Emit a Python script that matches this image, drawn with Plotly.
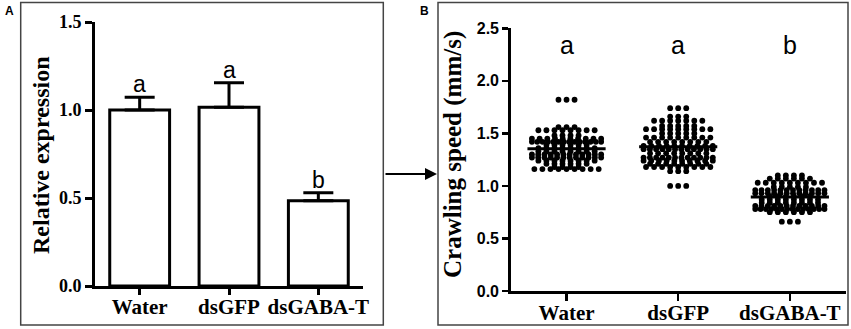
import numpy as np
import plotly.graph_objects as go

# ---------------- data ----------------
categories = ["Water", "dsGFP", "dsGABA-T"]

# Panel A: relative expression (mean, upper SE) and significance letters
expr_mean = [1.00, 1.015, 0.485]
expr_err = [0.072, 0.14, 0.045]
expr_letters = ["a", "a", "b"]

water_levels = [1.82, 1.56, 1.53, 1.48, 1.45, 1.42, 1.39, 1.36, 1.33, 1.30, 1.27, 1.24, 1.21, 1.18, 1.16]
water_counts = [3, 3, 8, 4, 10, 14, 6, 8, 8, 12, 12, 8, 6, 4, 9]

dsgfp_levels = [1.74, 1.66, 1.62, 1.57, 1.54, 1.50, 1.46, 1.42, 1.38, 1.35, 1.31, 1.27, 1.24, 1.21, 1.18, 1.14, 1.00]
dsgfp_counts = [3, 3, 7, 5, 9, 5, 9, 8, 10, 12, 8, 12, 10, 8, 9, 3, 3]

dsgaba_levels = [1.10, 1.07, 1.03, 0.99, 0.96, 0.93, 0.90, 0.87, 0.84, 0.81, 0.78, 0.75, 0.66]
dsgaba_counts = [4, 6, 9, 5, 12, 12, 6, 8, 8, 12, 14, 6, 3]

speed_letters = ["a", "a", "b"]

groups = [(water_levels, water_counts), (dsgfp_levels, dsgfp_counts), (dsgaba_levels, dsgaba_counts)]

# ---------------- layout helpers ----------------
W, H = 851, 329
def px(x):
    return x / W
def py(y):
    return (H - y) / H

SERIF = "Liberation Serif"
SANS = "Liberation Sans"

fig = go.Figure()

# Panel A bars
fig.add_trace(go.Bar(
    x=list(range(len(categories))), y=expr_mean, width=0.67,
    marker=dict(color="white", line=dict(color="black", width=3)),
    error_y=dict(type="data", array=expr_err, arrayminus=[0] * len(expr_err), symmetric=False,
                 color="black", thickness=3, width=15),
    xaxis="x", yaxis="y", showlegend=False, hoverinfo="skip",
))

# Panel B: dot plot laid out as a simple beeswarm (rows centred on each category)
max_half = 0.31
base_step = 0.072
for gi, (levels, counts) in enumerate(groups):
    xs, ys = [], []
    vals = []
    for lv, n in zip(levels, counts):
        step = base_step if n <= 1 else min(base_step, 2 * max_half / (n - 1))
        offs = (np.arange(n) - (n - 1) / 2) * step
        xs.extend(gi + offs)
        ys.extend([lv] * n)
        vals.extend([lv] * n)
    fig.add_trace(go.Scatter(
        x=xs, y=ys, mode="markers",
        marker=dict(color="black", size=5.8, line=dict(width=0)),
        xaxis="x2", yaxis="y2", showlegend=False, hoverinfo="skip",
    ))
    m = float(np.mean(vals))
    fig.add_trace(go.Scatter(
        x=[gi - 0.35, gi + 0.35], y=[m, m], mode="lines",
        line=dict(color="black", width=3),
        xaxis="x2", yaxis="y2", showlegend=False, hoverinfo="skip",
    ))

annotations = []
# letters panel A
for i, (v, e, t) in enumerate(zip(expr_mean, expr_err, expr_letters)):
    annotations.append(dict(x=i, y=v + e, xref="x", yref="y", text=t, showarrow=False,
                            yanchor="bottom", font=dict(family=SANS, size=23, color="black"), yshift=-2))
# letters panel B
for i, t in enumerate(speed_letters):
    annotations.append(dict(x=i, y=2.34, xref="x2", yref="y2", text=t, showarrow=False,
                            yanchor="middle", font=dict(family=SANS, size=25, color="black")))
# axis titles
annotations.append(dict(x=px(41), y=py(155), xref="paper", yref="paper", text="Relative expression",
                        textangle=-90, showarrow=False, xanchor="center", yanchor="middle",
                        font=dict(family=SERIF, size=24, color="black", weight="bold")))
annotations.append(dict(x=px(453), y=py(155), xref="paper", yref="paper", text="Crawling speed (mm/s)",
                        textangle=-90, showarrow=False, xanchor="center", yanchor="middle",
                        font=dict(family=SERIF, size=25, color="black", weight="bold")))
# panel letters
annotations.append(dict(x=px(9), y=py(11), xref="paper", yref="paper", text="A", showarrow=False,
                        xanchor="center", yanchor="middle",
                        font=dict(family=SANS, size=12, color="black", weight="bold")))
annotations.append(dict(x=px(424), y=py(11), xref="paper", yref="paper", text="B", showarrow=False,
                        xanchor="center", yanchor="middle",
                        font=dict(family=SANS, size=12, color="black", weight="bold")))
# arrow between panels
annotations.append(dict(x=px(437), y=py(174), xref="paper", yref="paper", text="",
                        showarrow=True, ax=-53, ay=0, arrowhead=2, arrowsize=1.2, arrowwidth=2,
                        arrowcolor="black"))

shapes = [
    dict(type="rect", xref="paper", yref="paper", x0=px(20.7), x1=px(383.3), y0=py(325), y1=py(2.5),
         line=dict(color="#444", width=1.5), fillcolor="rgba(0,0,0,0)"),
    dict(type="rect", xref="paper", yref="paper", x0=px(438), x1=px(848), y0=py(325), y1=py(2.5),
         line=dict(color="#444", width=1.5), fillcolor="rgba(0,0,0,0)"),
]

common_x = dict(range=[-0.5, 2.5], tickvals=list(range(len(categories))), ticktext=categories,
                showline=True, linecolor="black", ticks="outside", tickcolor="black",
                showgrid=False, zeroline=False, fixedrange=True, automargin=False,
                ticklabelstandoff=-6,
                tickfont=dict(family=SERIF, size=21, color="black", weight="bold"))

fig.update_layout(
    width=W, height=H, margin=dict(l=0, r=0, t=0, b=0, pad=0), autosize=False,
    paper_bgcolor="white", plot_bgcolor="white", bargap=0,
    xaxis=dict(domain=[px(95), px(363)], anchor="y", linewidth=3, tickwidth=3, ticklen=6, **common_x),
    yaxis=dict(domain=[py(286), py(22)], anchor="x", range=[0, 1.5], automargin=False,
               tickvals=[0, 0.5, 1.0, 1.5], ticktext=["0.0", "0.5", "1.0", "1.5"],
               showline=True, linecolor="black", linewidth=3, ticks="outside", tickwidth=3, ticklen=7,
               tickcolor="black", showgrid=False, zeroline=False,
               tickfont=dict(family=SERIF, size=18, color="black", weight="bold")),
    xaxis2=dict(domain=[px(510.7), px(845.7)], anchor="y2", linewidth=2.5, tickwidth=2.5, ticklen=7, **common_x),
    yaxis2=dict(domain=[py(291), py(28.3)], anchor="x2", range=[0, 2.5], automargin=False,
                tickvals=[0, 0.5, 1.0, 1.5, 2.0, 2.5], ticktext=["0.0", "0.5", "1.0", "1.5", "2.0", "2.5"],
                showline=True, linecolor="black", linewidth=2.5, ticks="outside", tickwidth=2.5, ticklen=6,
                tickcolor="black", showgrid=False, zeroline=False,
                tickfont=dict(family=SANS, size=16, color="black", weight="bold")),
    annotations=annotations, shapes=shapes,
)

fig.write_html("out.html", config={"displayModeBar": False, "staticPlot": True},
               post_script="document.body.style.margin='0';document.body.style.overflow='hidden';")
